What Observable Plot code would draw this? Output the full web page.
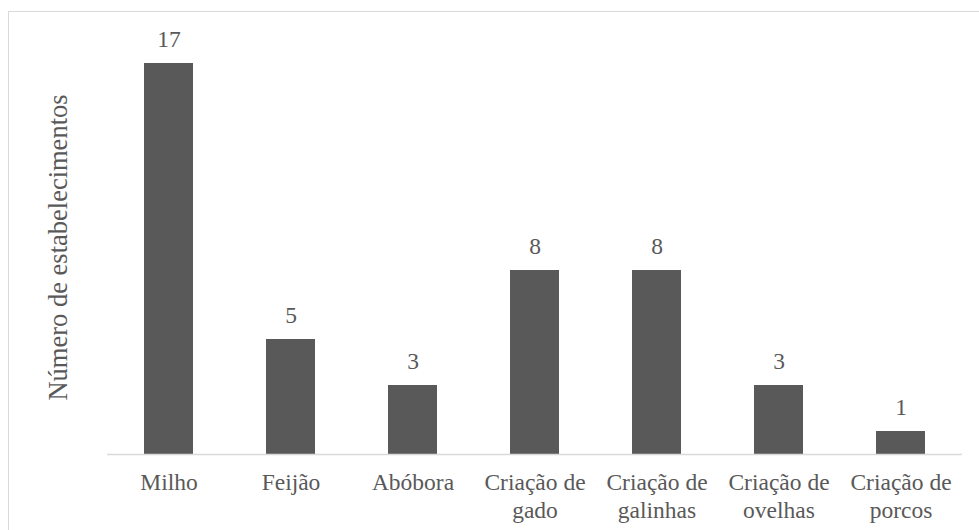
<!DOCTYPE html>
<html>
<head>
<meta charset="utf-8">
<script src="https://cdn.jsdelivr.net/npm/d3@7"></script>
<script src="https://cdn.jsdelivr.net/npm/@observablehq/plot@0.6"></script>
<style>
  html, body { margin: 0; padding: 0; background: #fff; overflow: hidden; }
  #wrap { position: relative; width: 979px; height: 530px; }
  #border { position: absolute; left: 8px; top: 11px; width: 1000px; height: 600px; border: 1.5px solid #d9d9d9; box-sizing: border-box; }
  #chart { position: absolute; left: 0; top: 0; }
  #chart svg, #chart text { font-family: "Liberation Serif", "Times New Roman", serif; }
</style>
</head>
<body>
<div id="wrap"><div id="border"></div><div id="chart"></div></div>
<script>
const categories = ["Milho", "Feijão", "Abóbora", "Criação de\ngado", "Criação de\ngalinhas", "Criação de\novelhas", "Criação de\nporcos"];
const values = [17, 5, 3, 8, 8, 3, 1];
const yLabel = "Número de estabelecimentos";

const data = categories.map((c, i) => ({category: c, value: values[i]}));
const font = "Liberation Serif";
const textColor = "#595959";

const chart = Plot.plot({
  width: 979,
  height: 530,
  marginLeft: 107,
  marginRight: 17,
  marginTop: 40,
  marginBottom: 76,
  style: {background: "transparent", overflow: "visible"},
  x: {domain: categories, paddingInner: 0.6, paddingOuter: 0.3, axis: null},
  y: {domain: [0, 18], axis: null},
  marks: [
    Plot.barY(data, {x: "category", y: "value", fill: "#595959"}),
    Plot.ruleY([0], {stroke: "#d9d9d9", strokeWidth: 1.5}),
    Plot.text(data, {x: "category", y: "value", text: d => String(d.value), lineAnchor: "bottom", dy: -17, fontSize: 23.5, fontFamily: font, fill: textColor}),
    Plot.text(data, {x: "category", text: "category", frameAnchor: "bottom", lineAnchor: "top", lineHeight: 1.19, dy: 16, fontSize: 23.5, fontFamily: font, fill: textColor}),
    Plot.text([yLabel], {frameAnchor: "left", text: d => d, rotate: -90, textAnchor: "middle", dx: -49, fontSize: 26.5, fontFamily: font, fill: textColor})
  ]
});
document.getElementById("chart").appendChild(chart);
</script>
</body>
</html>
